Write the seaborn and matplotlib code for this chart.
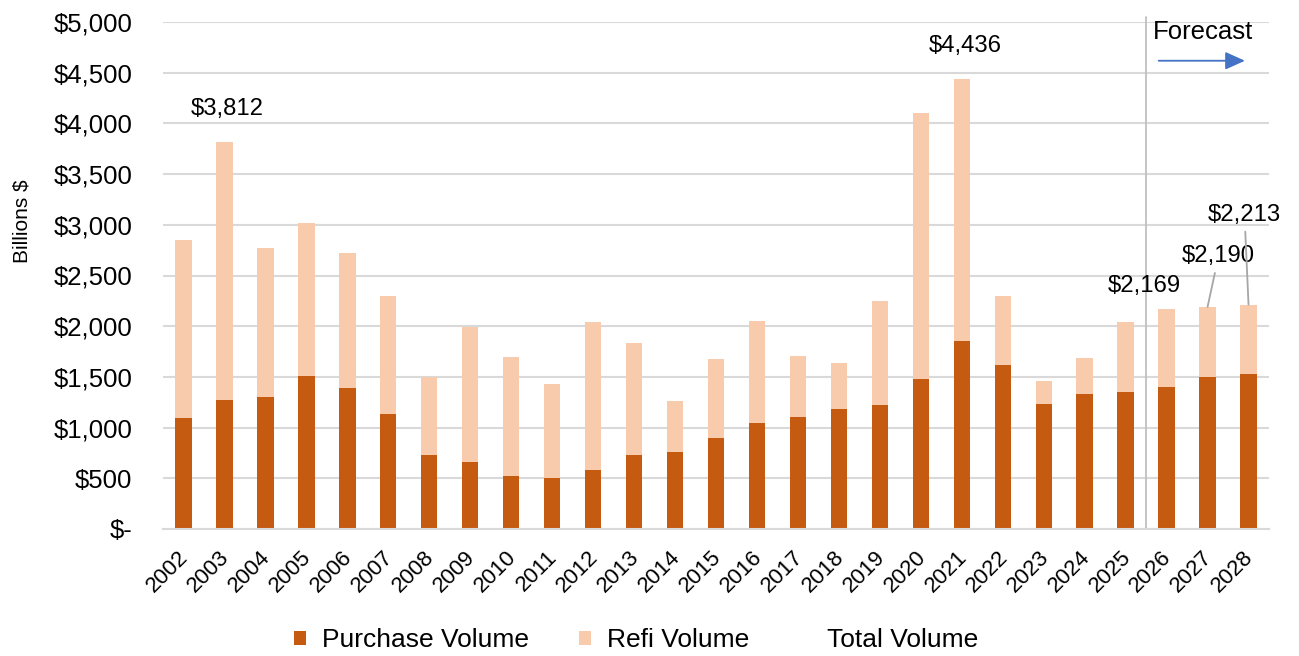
import matplotlib
matplotlib.use("Agg")
import matplotlib.pyplot as plt
import matplotlib.transforms as mtransforms
from matplotlib.patches import Patch
from matplotlib.lines import Line2D
from matplotlib.ticker import FuncFormatter, MultipleLocator
import numpy as np
import pandas as pd
import seaborn as sns

# values (billions $)
years = [str(y) for y in range(2002, 2029)]
purchase = [1095, 1272, 1305, 1506, 1394, 1134, 727, 658, 523, 500, 582, 730, 756,
            900, 1048, 1108, 1180, 1223, 1479, 1857, 1614, 1236, 1335, 1348, 1403,
            1499, 1532]
refi = [1755, 2540, 1463, 1512, 1325, 1164, 775, 1331, 1170, 930, 1456, 1108, 506,
        777, 1000, 598, 460, 1026, 2624, 2579, 684, 220, 348, 697, 766, 691, 681]
labelled_years = ["2003", "2021", "2026", "2027", "2028"]

PURCHASE_C = "#C55A11"
REFI_C = "#F8CBAD"


def money(v, pos=None):
    if v == 0:
        return "$-"
    return f"${v:,.0f}"


def main():
    df = pd.DataFrame({"year": years, "purchase": purchase, "refi": refi})
    df["total"] = df["purchase"] + df["refi"]

    sns.set_theme(style="white")
    plt.rcParams["font.family"] = ["Liberation Sans", "DejaVu Sans"]
    plt.rcParams["text.color"] = "black"

    fig = plt.figure(figsize=(12.99, 6.56), dpi=100)
    ax = fig.add_axes([163 / 1299, 1 - 529 / 656, (1269 - 163) / 1299, (529 - 22) / 656])

    # stacked: total bar in refi colour, purchase drawn over it
    sns.barplot(data=df, x="year", y="total", color=REFI_C, width=0.4,
                linewidth=0, saturation=1, ax=ax)
    sns.barplot(data=df, x="year", y="purchase", color=PURCHASE_C, width=0.4,
                linewidth=0, saturation=1, ax=ax)

    ax.set_xlim(-0.5, len(years) - 0.5)
    ax.set_ylim(0, 5000)
    ax.yaxis.set_major_locator(MultipleLocator(500))
    ax.yaxis.set_major_formatter(FuncFormatter(money))
    ax.grid(axis="y", color="#D9D9D9", lw=1.5)
    ax.set_axisbelow(True)
    for s in ax.spines.values():
        s.set_visible(False)
    ax.spines["bottom"].set_visible(True)
    ax.spines["bottom"].set_color("#D9D9D9")
    ax.spines["bottom"].set_linewidth(1.5)

    ax.tick_params(axis="y", length=0, pad=22, labelsize=18.5, labelcolor="black")
    ax.tick_params(axis="x", length=0, pad=13, labelsize=16, labelcolor="black")
    shift = mtransforms.ScaledTranslation(-4 / 72, 0, fig.dpi_scale_trans)
    for lab in ax.get_xticklabels():
        lab.set_rotation(45)
        lab.set_ha("right")
        lab.set_va("top")
        lab.set_rotation_mode("anchor")
        lab.set_transform(lab.get_transform() + shift)

    ax.set_xlabel("")
    ax.set_ylabel("Billions $", fontsize=15, color="black")
    ax.yaxis.set_label_coords(-0.119, 0.607)

    # value labels
    offsets = {"2003": (3, 33, False), "2021": (3, 33, False), "2026": (-22, 23, False),
               "2027": (11, 51, True), "2028": (-4, 90, True)}
    for yr in labelled_years:
        i = years.index(yr)
        tot = df.loc[i, "total"]
        dx, dy, lead = offsets[yr]
        ax.annotate(money(tot), xy=(i, tot), xytext=(dx, dy), textcoords="offset pixels",
                    ha="center", va="center", fontsize=17.2, color="black",
                    arrowprops=dict(arrowstyle="-", color="#A6A6A6", lw=1.3,
                                    shrinkA=2, shrinkB=0) if lead else None)

    # forecast marker
    ax.axvline(23.5, color="#BFBFBF", lw=1.3, ymax=1.01, clip_on=False)
    ax.text(24.89, 4897, "Forecast", ha="center", va="center", fontsize=18.5, color="black")
    ax.annotate("", xy=(25.98, 4618), xytext=(23.74, 4618),
                arrowprops=dict(arrowstyle="-|>,head_length=1.0,head_width=0.45",
                                color="#4472C4", lw=1.3))

    handles = [Patch(facecolor=PURCHASE_C, edgecolor="none"),
               Patch(facecolor=REFI_C, edgecolor="none"),
               Line2D([], [], color="none")]
    fig.legend(handles, ["Purchase Volume", "Refi Volume", "Total Volume"],
               loc="center", bbox_to_anchor=(636 / 1299, 1 - 640 / 656), ncol=3,
               frameon=False, fontsize=19, handlelength=0.45, handleheight=0.45,
               handletextpad=0.6, columnspacing=1.9, labelcolor="black")

    fig.savefig("out.png", dpi=100)


if __name__ == "__main__":
    main()
